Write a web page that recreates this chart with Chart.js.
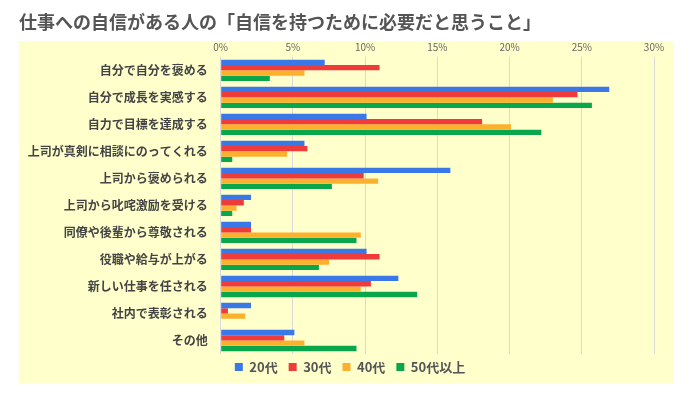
<!DOCTYPE html>
<html>
<head>
<meta charset="utf-8">
<script src="https://cdn.jsdelivr.net/npm/chart.js@4"></script>
<style>
  html, body { margin: 0; padding: 0; background: #ffffff; }
  #wrap { width: 681px; height: 394px; position: relative; }
</style>
</head>
<body>
<div id="wrap"><canvas id="c" width="681" height="394"></canvas></div>
<script>
const titleText = '仕事への自信がある人の「自信を持つために必要だと思うこと」';
const categories = [
  '自分で自分を褒める',
  '自分で成長を実感する',
  '自力で目標を達成する',
  '上司が真剣に相談にのってくれる',
  '上司から褒められる',
  '上司から叱咤激励を受ける',
  '同僚や後輩から尊敬される',
  '役職や給与が上がる',
  '新しい仕事を任される',
  '社内で表彰される',
  'その他'
];
const seriesNames = ['20代', '30代', '40代', '50代以上'];
const values20 = [7.2, 26.9, 10.1, 5.8, 15.9, 2.1, 2.1, 10.1, 12.3, 2.1, 5.1];
const values30 = [11.0, 24.7, 18.1, 6.0, 9.9, 1.6, 2.1, 11.0, 10.4, 0.5, 4.4];
const values40 = [5.8, 23.0, 20.1, 4.6, 10.9, 1.1, 9.7, 7.5, 9.7, 1.7, 5.8];
const values50 = [3.4, 25.7, 22.2, 0.8, 7.7, 0.8, 9.4, 6.8, 13.6, 0, 9.4];
const xTicks = [0, 5, 10, 15, 20, 25, 30];

const colors = ['#3a78e7', '#ef3b3a', '#fcb12e', '#0aa64b'];
const allValues = [values20, values30, values40, values50];

const bgPlugin = {
  id: 'bgPanel',
  beforeDraw(chart) {
    const ctx = chart.ctx;
    ctx.save();
    ctx.fillStyle = '#ffffcc';
    ctx.fillRect(19, 41, 654, 342);
    ctx.restore();
  }
};

const legendShift = {
  id: 'legendShift',
  afterLayout(chart) {
    const lg = chart.legend;
    if (lg) { lg.top -= 4.5; lg.bottom -= 4.5; }
  }
};

const FONT = '"Noto Sans CJK JP", "Noto Sans", sans-serif';

new Chart(document.getElementById('c'), {
  type: 'bar',
  data: {
    labels: categories,
    datasets: seriesNames.map((name, i) => ({
      label: name,
      data: allValues[i],
      backgroundColor: colors[i],
      borderWidth: 0,
      barPercentage: 1.0,
      categoryPercentage: 0.79
    }))
  },
  options: {
    indexAxis: 'y',
    responsive: false,
    animation: false,
    devicePixelRatio: 1,
    layout: { padding: { left: 19, right: 0, top: 0, bottom: 6 } },
    plugins: {
      title: {
        display: true,
        text: titleText,
        align: 'start',
        color: '#555555',
        font: { family: FONT, size: 18, weight: 'bold' },
        padding: { top: 11, bottom: 8 }
      },
      legend: {
        position: 'bottom',
        labels: {
          boxWidth: 8,
          boxHeight: 8,
          padding: 11,
          color: '#555555',
          font: { family: FONT, size: 13, weight: 'bold' }
        }
      },
      tooltip: { enabled: false }
    },
    scales: {
      x: {
        position: 'top',
        min: 0,
        max: 30,
        afterBuildTicks(scale) { scale.ticks = xTicks.map(v => ({ value: v })); },
        afterFit(scale) { scale.height = 16.2; },
        ticks: {
          padding: 4,
          color: '#666666',
          font: { family: FONT, size: 10 },
          callback: v => v + '%'
        },
        grid: { color: '#d9d9d9', lineWidth: 1, drawTicks: false },
        border: { display: false }
      },
      y: {
        afterFit(scale) { scale.width = 201.7; },
        ticks: {
          padding: 13,
          color: '#444444',
          font: { family: FONT, size: 12, weight: 'bold' }
        },
        grid: { display: false, drawTicks: false },
        border: { display: false }
      },
      yr: {
        type: 'category',
        position: 'right',
        afterFit(scale) { scale.width = 27; },
        ticks: { display: false },
        grid: { display: false, drawTicks: false },
        border: { display: false }
      }
    }
  },
  plugins: [bgPlugin, legendShift]
});
</script>
</body>
</html>
